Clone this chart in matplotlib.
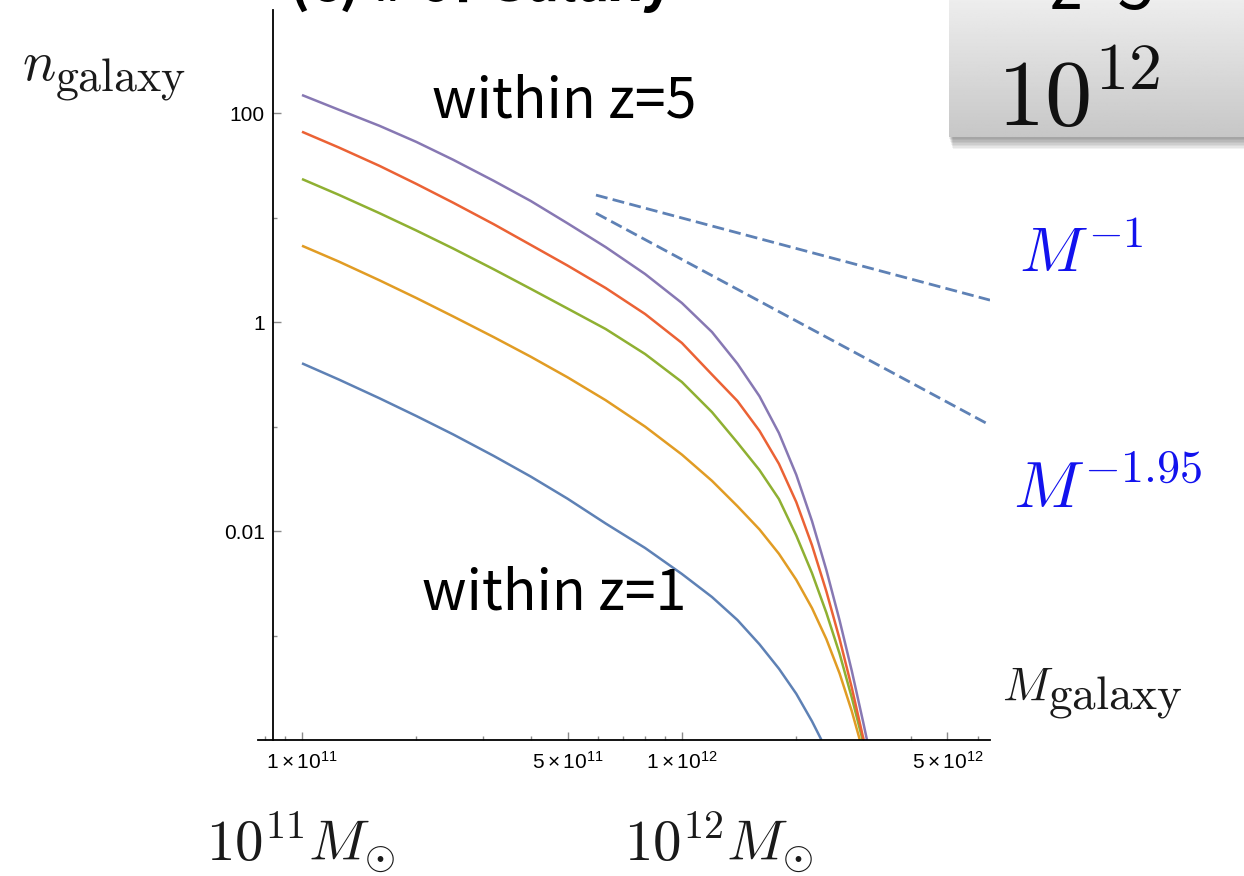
import matplotlib
matplotlib.use("Agg")

import matplotlib.pyplot as plt
import numpy as np
from matplotlib.ticker import FixedLocator, FixedFormatter, NullFormatter

# ---- data (solar masses, galaxy counts) ----
mass_grid = [1e11, 1.25e11, 1.6e11, 2e11, 2.5e11, 3.2e11, 4e11, 5e11, 6.3e11, 8e11,
             1e12, 1.2e12, 1.4e12, 1.6e12, 1.8e12, 2e12, 2.2e12, 2.4e12, 2.6e12, 2.8e12, 3e12]

# within z=1 (blue)
mass_z1 = mass_grid[:17] + [2.33e12]
n_z1 = [0.4025, 0.2817, 0.1862, 0.1260, 0.0840, 0.0522, 0.0332, 0.02038, 0.01180, 0.00688,
        0.00388, 0.002335, 0.001407, 8.24e-4, 4.82e-4, 2.768e-4, 1.51e-4, 1.0e-4]

# orange
mass_z2 = mass_grid[:20] + [2.94e12]
n_z2 = [5.37, 3.79, 2.506, 1.697, 1.131, 0.7153, 0.4655, 0.2957, 0.1785, 0.0998,
        0.0538, 0.0302, 0.01728, 0.01036, 0.00606, 0.00341, 0.001829, 9.24e-4, 4.34e-4, 1.886e-4, 1.0e-4]

# green
mass_z3 = mass_grid[:20] + [2.99e12]
n_z3 = [23.35, 16.49, 11.0, 7.51, 5.05, 3.19, 2.078, 1.346, 0.857, 0.494,
        0.2666, 0.1373, 0.0701, 0.0383, 0.02024, 0.00905, 0.00395, 0.00165, 6.70e-4, 2.544e-4, 1.0e-4]

# red
mass_z4 = mass_grid + [3.009e12]
n_z4 = [66.2, 46.8, 31.2, 20.97, 13.86, 8.61, 5.47, 3.47, 2.115, 1.193,
        0.630, 0.314, 0.1754, 0.0910, 0.0440, 0.01891, 0.00730, 0.002642, 9.28e-4, 3.166e-4, 1.047e-4, 1.0e-4]

# within z=5 (purple)
mass_z5 = mass_grid + [3.07e12]
n_z5 = [148.7, 107.5, 75.4, 52.9, 35.7, 22.4, 14.4, 8.80, 5.21, 2.88,
        1.52, 0.802, 0.399, 0.195, 0.0867, 0.0345, 0.01244, 0.00423, 0.001398, 4.58e-4, 1.481e-4, 1.0e-4]

# power-law guide lines
guide_mass = [5.94e11, 6.47e12]
guide_m1 = [16.4, 1.62]
guide_m195 = [11.0, 0.103]

x_major = [1e11, 5e11, 1e12, 5e12]
x_major_labels = [r'$1\times10^{11}$', r'$5\times10^{11}$', r'$1\times10^{12}$', r'$5\times10^{12}$']
x_minor = [8e10, 9e10, 2e11, 3e11, 4e11, 6e11, 7e11, 8e11, 9e11, 2e12, 3e12, 4e12, 6e12]
y_major = [1e2, 1, 1e-2]
y_major_labels = ['100', '1', '0.01']
y_minor = [1e1, 1e-1, 1e-3]

plt.rcParams['font.family'] = ['Liberation Sans', 'DejaVu Sans']
plt.rcParams['mathtext.fontset'] = 'custom'
plt.rcParams['mathtext.rm'] = 'Liberation Sans'
plt.rcParams['mathtext.it'] = 'Liberation Sans:italic'
plt.rcParams['mathtext.bf'] = 'Liberation Sans:bold'

W, H = 1244, 876
fig = plt.figure(figsize=(W / 100, H / 100), dpi=100)
ax = fig.add_axes([258 / W, 1 - 740 / H, 732 / W, 730 / H])

curves = [
    (mass_z1, n_z1, '#5E81B5'),
    (mass_z2, n_z2, '#E19C24'),
    (mass_z3, n_z3, '#8FB032'),
    (mass_z4, n_z4, '#EB6235'),
    (mass_z5, n_z5, '#8778B3'),
]
for m, n, c in curves:
    ax.plot(m, n, color=c, lw=1.8, solid_capstyle='butt', solid_joinstyle='round')

ax.plot(guide_mass, guide_m1, color='#5E81B5', lw=2.0, dashes=(4.3, 1.9))
ax.plot(guide_mass, guide_m195, color='#5E81B5', lw=2.0, dashes=(4.3, 1.9))

ax.set_xscale('log')
ax.set_yscale('log')
ax.set_xlim(7.66e10, 6.47e12)
ax.set_ylim(1e-4, 968)

ax.spines['top'].set_visible(False)
ax.spines['right'].set_visible(False)
ax.spines['left'].set_position(('data', 8.39e10))
for s in ['left', 'bottom']:
    ax.spines[s].set_linewidth(1.3)

ax.xaxis.set_major_locator(FixedLocator(x_major))
ax.xaxis.set_major_formatter(FixedFormatter(x_major_labels))
ax.xaxis.set_minor_locator(FixedLocator(x_minor))
ax.xaxis.set_minor_formatter(NullFormatter())
ax.yaxis.set_major_locator(FixedLocator(y_major))
ax.yaxis.set_major_formatter(FixedFormatter(y_major_labels))
ax.yaxis.set_minor_locator(FixedLocator(y_minor))
ax.yaxis.set_minor_formatter(NullFormatter())
ax.tick_params(which='both', direction='in', color='#8a8a8a', width=1.0, labelsize=15)
ax.tick_params(which='major', length=6)
ax.tick_params(axis='x', which='major', pad=8)
ax.tick_params(axis='y', which='major', pad=6)
ax.tick_params(which='minor', length=3)
ax.patch.set_visible(False)

# overlay in pixel coordinates for slide-level text
ov = fig.add_axes([0, 0, 1, 1])
ov.axis('off')

# gray box at top right with a soft shadow
for k in range(8):
    ov.add_patch(plt.Rectangle((949 + k * 0.5, 137), W, 1.5 * (k + 1), color='black', alpha=0.05, lw=0))
grad = np.linspace(0.93, 0.78, 100)[:, None]
ov.imshow(grad, cmap='gray', vmin=0, vmax=1, extent=(949, W, 137, 0), aspect='auto')
ov.set_xlim(0, W)
ov.set_ylim(H, 0)

sans = ['Noto Sans CJK JP', 'DejaVu Sans']
ov.text(1050, 9, 'z<5', fontsize=48, family=sans, va='baseline')
ov.text(997, 127, r'$10^{12}$', fontsize=68, math_fontfamily='cm', va='baseline', color='#111111')

ov.text(289, 1, '(c) # of Galaxy', fontsize=40, weight='bold', family=sans, va='baseline')

ov.text(432, 118, 'within z=5', fontsize=40, family=sans, va='baseline')
ov.text(422, 610, 'within z=1', fontsize=40, family=sans, va='baseline')

ink = '#1a1a1a'
ov.text(22, 80, r'$n$', fontsize=40, math_fontfamily='cm', va='baseline', color=ink)
ov.text(55, 90, r'$\mathrm{galaxy}$', fontsize=33, math_fontfamily='cm', va='baseline', color=ink)
ov.text(1002, 700, r'$M$', fontsize=34, math_fontfamily='cm', va='baseline', color=ink)
ov.text(1048, 709, r'$\mathrm{galaxy}$', fontsize=34, math_fontfamily='cm', va='baseline', color=ink)
ov.text(1019, 272, r'$M^{-1}$', fontsize=46, math_fontfamily='cm', va='baseline', color='#1212EE')
ov.text(1013, 508, r'$M^{-1.95}$', fontsize=47.5, math_fontfamily='cm', va='baseline', color='#1212EE')
ov.text(206, 860, r'$10^{11}M_{\odot}$', fontsize=41, math_fontfamily='cm', va='baseline', color=ink)
ov.text(624, 860, r'$10^{12}M_{\odot}$', fontsize=41, math_fontfamily='cm', va='baseline', color=ink)

fig.savefig('out.png', dpi=100)
